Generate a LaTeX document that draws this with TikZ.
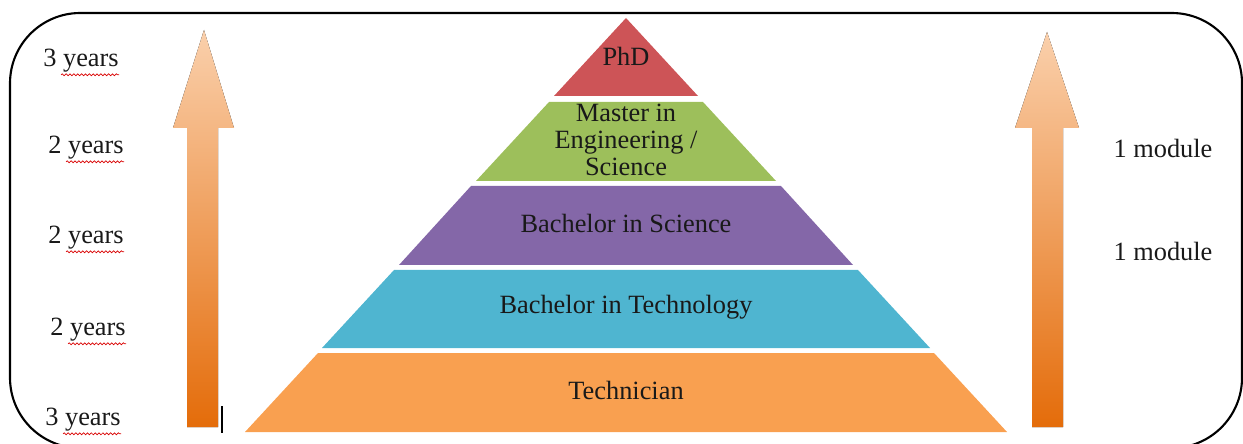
\documentclass[tikz,border=0pt]{standalone}
\usepackage{fontspec}
\setmainfont{Liberation Serif}
\usepackage{tikz}
\usetikzlibrary{shapes}
\usetikzlibrary{positioning}
\usetikzlibrary{decorations.pathmorphing}
\definecolor{phdred}{HTML}{CD5457}
\definecolor{mastergreen}{HTML}{9DBF5B}
\definecolor{bscpurple}{HTML}{8467A8}
\definecolor{btechblue}{HTML}{4FB5D0}
\definecolor{techorange}{HTML}{F9A050}
\definecolor{arrowtop}{HTML}{FAD0AC}
\definecolor{arrowbot}{HTML}{E46C0A}
\tikzset{
    frame/.style={draw=black, line width=1.2pt, rounded corners=40pt},
    layer/.style={draw=none},
    bigarrow/.style={draw=none, top color=arrowtop, bottom color=arrowbot},
    lvltext/.style={font=\fontsize{15}{15.5}\selectfont, text=black!90, inner sep=0pt, align=center},
    sidetext/.style={font=\fontsize{15}{16}\selectfont, text=black!90, inner sep=0pt},
    spellmark/.style={decorate, decoration={snake, amplitude=0.55pt, segment length=2.2pt},
        draw=red!85!black, line width=0.4pt},
}

\begin{document}
\begin{tikzpicture}[x=0.2mm, y=-0.2mm]
	\useasboundingbox (0,0) rectangle (1243,444);
	\begin{scope}
	\clip (0,0) rectangle (1243,444);
	\draw[frame] (10,13) rectangle (1242,448);
	\end{scope}
	% pyramid
	\fill[layer, phdred] (626,18)--(698,96)--(554,96)--cycle;
	\fill[layer, mastergreen] (549,102)--(703,102)--(776,181)--(476,181)--cycle;
	\fill[layer, bscpurple] (471,186)--(781,186)--(853,265)--(399,265)--cycle;
	\fill[layer, btechblue] (394,270)--(858,270)--(930,348)--(322,348)--cycle;
	\fill[layer, techorange] (318,353)--(934,353)--(1007,432)--(245,432)--cycle;
	\node[lvltext] (phd) at (626,56) {PhD};
	\node[lvltext] (master) at (626,140) {Master in\\Engineering /\\Science};
	\node[lvltext] (bsc) at (626,223) {Bachelor in Science};
	\node[lvltext] (btech) at (626,307) {Bachelor in Technology};
	\node[lvltext] (tech) at (626,390) {Technician};
	% arrows
	\fill[bigarrow] (187,427)--(187,128)--(173,128)--(204,30)--(234,128)--(218,128)--(218,427)--cycle;
	\fill[bigarrow] (1032,427)--(1032,128)--(1015,128)--(1047,32)--(1079,128)--(1063,128)--(1063,427)--cycle;
	\draw[line width=1.1pt] (222,406)--(222,433);
	% durations
	\node[sidetext] (yrsA) at (81,61) {3 years};
	\node[sidetext] (yrsB) at (86,148) {2 years};
	\node[sidetext] (yrsC) at (86,238) {2 years};
	\node[sidetext] (yrsD) at (88,330) {2 years};
	\node[sidetext] (yrsE) at (83,420) {3 years};
	\foreach \n in {yrsA,yrsB,yrsC,yrsD,yrsE}
		\draw[spellmark] ([xshift=-33pt,yshift=-4.5pt]\n.base east)--([yshift=-4.5pt]\n.base east);
	\node[sidetext] (modA) at (1163,148) {1 module};
	\node[sidetext] (modB) at (1163,251) {1 module};
\end{tikzpicture}
\end{document}
